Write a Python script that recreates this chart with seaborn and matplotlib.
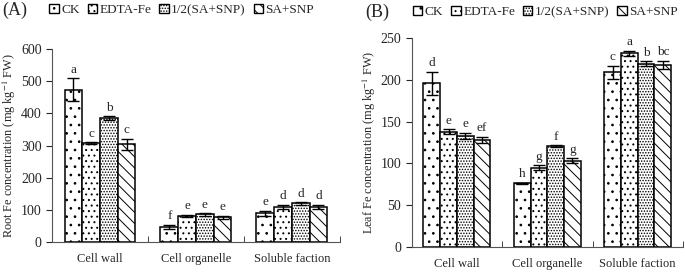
import matplotlib
matplotlib.use("Agg")
import matplotlib.pyplot as plt
import pandas as pd
import seaborn as sns
from matplotlib.patches import Patch

sns.set_style("ticks")
plt.rcParams['font.family'] = ['Liberation Serif', 'DejaVu Serif']
plt.rcParams['mathtext.fontset'] = 'stix'
plt.rcParams['hatch.linewidth'] = 0.7

# 数据
fractions = ["Cell wall", "Cell organelle", "Soluble faction"]
treatments = ["CK", "EDTA-Fe", "1/2(SA+SNP)", "SA+SNP"]
hatches = ["..", "...", "......", "\\\\\\"]

# 根 (A)，每个处理对应三个组分
root_mean = {"CK": [474, 47, 90], "EDTA-Fe": [307, 82, 110],
             "1/2(SA+SNP)": [385, 86, 120], "SA+SNP": [304, 77, 110]}
root_err = {"CK": [35, 7, 8], "EDTA-Fe": [3, 3, 6],
            "1/2(SA+SNP)": [6, 4, 4], "SA+SNP": [17, 4, 6]}
root_letters = {"CK": ["a", "f", "e"], "EDTA-Fe": ["c", "e", "d"],
                "1/2(SA+SNP)": ["b", "e", "d"], "SA+SNP": ["c", "e", "d"]}

# 叶 (B)
leaf_mean = {"CK": [196, 76, 209], "EDTA-Fe": [138, 95, 232],
             "1/2(SA+SNP)": [133, 121, 219], "SA+SNP": [128, 103, 218]}
leaf_err = {"CK": [14, 1, 8], "EDTA-Fe": [3, 3, 3],
            "1/2(SA+SNP)": [4, 1, 3], "SA+SNP": [4, 3, 5]}
leaf_letters = {"CK": ["d", "h", "c"], "EDTA-Fe": ["e", "g", "a"],
                "1/2(SA+SNP)": ["e", "f", "b"], "SA+SNP": ["ef", "g", "bc"]}


def long_table(mean, err, letters):
    rows = []
    for t in treatments:
        for i, f in enumerate(fractions):
            rows.append({"fraction": f, "treatment": t, "value": mean[t][i],
                         "err": err[t][i], "letter": letters[t][i]})
    return pd.DataFrame(rows)


def draw(ax, df, ylim, ystep, ylabel, letter_pad):
    sns.barplot(data=df, x="fraction", y="value", hue="treatment",
                order=fractions, hue_order=treatments, errorbar=None,
                width=0.74, gap=0, palette=["white"] * 4,
                edgecolor="black", linewidth=1.1, legend=False, ax=ax)
    for t, h, cont in zip(treatments, hatches, ax.containers):
        sub = df[df.treatment == t].set_index("fraction").loc[fractions]
        xs = []
        for bar in cont:
            bar.set_hatch(h)
            xs.append(bar.get_x() + bar.get_width() / 2)
        ax.errorbar(xs, sub.value, yerr=sub.err, fmt="none", ecolor="black",
                    elinewidth=1.0, capsize=4, capthick=1.0)
        for x, v, e, lab in zip(xs, sub.value, sub.err, sub.letter):
            ax.text(x, v + e + letter_pad, lab, ha="center", va="bottom", fontsize=9.5)
    ax.set_ylim(0, ylim)
    ax.set_xlim(-0.5, 2.5)
    ax.set_yticks(range(0, ylim + 1, ystep))
    ax.set_xlabel("")
    ax.set_ylabel(ylabel, fontsize=8.8, labelpad=2)
    ax.tick_params(axis="x", length=0, pad=8, labelsize=9)
    ax.tick_params(axis="y", length=4, direction="out", labelsize=10)
    ax.set_xticks([0.5, 1.5, 2.5], minor=True)
    ax.tick_params(axis="x", which="minor", length=4, direction="in")
    sns.despine(ax=ax)
    for s in ["left", "bottom"]:
        ax.spines[s].set_linewidth(0.8)
        ax.spines[s].set_color("#555555")
    handles = [Patch(facecolor="white", edgecolor="black", hatch=h, label=t)
               for t, h in zip(treatments, hatches)]
    return handles


fig = plt.figure(figsize=(6.85, 2.72), dpi=100)
axA = fig.add_axes([0.076, 0.110, 0.420, 0.710])
axB = fig.add_axes([0.601, 0.092, 0.396, 0.768])

hA = draw(axA, long_table(root_mean, root_err, root_letters), 600, 100,
          "Root Fe concentration (mg kg$^{-1}$ FW)", 8)
hB = draw(axB, long_table(leaf_mean, leaf_err, leaf_letters), 250, 50,
          "Leaf Fe concentration (mg kg$^{-1}$ FW)", 3)

for h, x, y in [(hA, 0.072, 0.962), (hB, 0.603, 0.955)]:
    fig.legend(handles=h, loc="center left", bbox_to_anchor=(x, y), ncol=4,
               frameon=False, fontsize=9.5, handlelength=0.7, handleheight=0.7,
               handletextpad=0.2, columnspacing=0.6, borderaxespad=0, borderpad=0)

fig.text(0.003, 0.962, "(A)", fontsize=13, va="center")
fig.text(0.533, 0.955, "(B)", fontsize=13, va="center")

fig.savefig("out.png", dpi=100)
